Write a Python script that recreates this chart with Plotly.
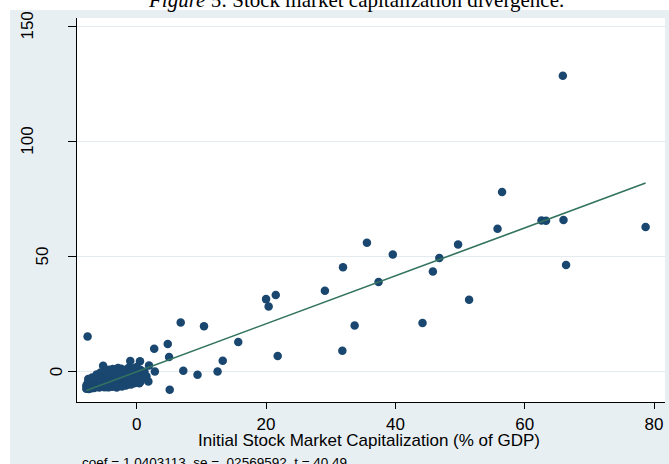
import plotly.graph_objects as go

# initial stock market cap (% of GDP) vs divergence
cap_x = [
    -7.8, -7.8, -7.6, -7.6, -7.4, -7.4, -7.2, -7.0, -7.0, -6.8, -6.8, -6.6,
    -6.4, -6.4, -6.2, -6.0, -6.0, -5.8, -5.8, -5.6, -5.4, -5.4, -5.2, -5.0,
    -5.0, -4.8, -4.6, -4.6, -4.4, -4.4, -4.2, -4.0, -4.0, -3.8, -3.8, -3.6,
    -3.4, -3.4, -3.2, -3.2, -3.0, -3.0, -2.8, -2.6, -2.6, -2.4, -2.4, -2.2,
    -2.2, -2.0, -1.8, -1.8, -1.6, -1.6, -1.4, -1.4, -1.2, -1.2, -1.0, -0.8,
    -0.8, -0.6, -0.4, -0.4, -0.2, 0.0, 0.0, 0.3, 0.6, 0.6, 0.9, 1.2,
    -7.5, -6.9, -6.2, -5.6, -4.9, -4.3, -3.7, -3.1, -2.9, -2.3, -1.7, -0.9,
    -5.2, -1.0, 0.5, 1.9, 1.5, 1.8, 0.4, 2.8, 2.7, 4.8, 5.0, 5.1,
    7.2, 6.8, 9.4, 10.4, 12.5, 13.3, 15.7, -7.6,
    20.0, 20.4, 21.5, 21.8, 29.1, 31.8, 31.9, 33.7, 35.6, 37.4, 39.6,
    44.2, 45.8, 46.8, 49.7, 51.4, 55.8, 56.5, 62.6, 63.3, 66.0, 66.4,
    65.9, 78.7,
]
divergence = [
    -7.4, -6.0, -7.0, -5.0, -7.5, -4.3, -6.4, -7.2, -5.3, -6.0, -4.0, -7.1,
    -5.4, -3.4, -6.6, -4.6, -2.8, -6.9, -5.6, -3.8, -6.2, -2.0, -4.9, -6.7,
    -3.0, -1.6, -5.6, -4.0, -6.8, -0.9, -2.7, -5.0, -0.2, -6.5, -3.6, -1.4,
    -5.8, 0.4, -4.2, -2.4, -6.3, 0.9, -3.1, -5.2, -0.8, -1.9, 1.3, -6.0,
    -3.9, 0.3, -4.8, -2.2, -5.8, 1.0, -3.2, -0.6, -5.3, 1.8, -1.8, -4.4,
    0.6, -2.6, -5.0, 1.5, -0.8, -3.5, 2.0, -1.6, -4.2, 0.7, -2.7, 0.0,
    -3.2, -2.5, -1.2, -0.4, 0.2, 0.8, 1.2, -6.9, 1.6, -6.4, -6.0, -5.6,
    2.6, 4.6, 4.5, 2.7, -2.0, -4.2, -5.0, 0.1, 10.0, 12.0, 6.4, -7.8,
    0.4, 21.4, -1.3, 19.7, 0.1, 4.8, 12.9, 15.3,
    31.5, 28.3, 33.3, 6.8, 35.1, 9.1, 45.3, 20.0, 56.0, 38.9, 50.9,
    21.1, 43.5, 49.3, 55.2, 31.2, 62.0, 78.0, 65.6, 65.5, 65.8, 46.3,
    128.4, 62.8,
]

coef = 1.0403113
intercept = 0.0
y_ticks = [0, 50, 100, 150]
x_ticks = [0, 20, 40, 60, 80]

title_text = "<i>Figure</i> 5: Stock market capitalization divergence."
x_title = "Initial Stock Market Capitalization (% of GDP)"
note_text = "coef = 1.0403113, se = .02569592, t = 40.49"

navy = "#1a476f"
fit_green = "#33735f"
region_gray = "#e8eff2"
grid_gray = "#e3ebee"

fig = go.Figure()

fig.add_trace(go.Scatter(
    x=cap_x, y=divergence,
    mode="markers",
    marker=dict(color=navy, size=8.5, line=dict(width=0)),
    showlegend=False))

# fitted line over the range of the data
x_lo, x_hi = min(cap_x), max(cap_x)
fig.add_trace(go.Scatter(
    x=[x_lo, x_hi],
    y=[intercept + coef * x_lo, intercept + coef * x_hi],
    mode="lines",
    line=dict(color=fit_green, width=1.6),
    showlegend=False))

fig.update_layout(
    width=669, height=464,
    margin=dict(l=77, r=4, t=18, b=62),
    paper_bgcolor=region_gray,
    plot_bgcolor="white",
    font=dict(family="Liberation Sans, Arial", color="black", size=17),
)

fig.update_xaxes(
    range=[-9.24, 81.7],
    tickvals=x_ticks,
    ticks="outside", ticklen=6, tickcolor="black",
    ticklabelstandoff=1,
    showline=True, linecolor="black", linewidth=1,
    showgrid=False, zeroline=False,
    tickfont=dict(size=17),
)
fig.update_yaxes(
    range=[-13.15, 153.5],
    tickvals=y_ticks,
    showticklabels=False,
    ticks="outside", ticklen=8, tickcolor="black",
    showline=True, linecolor="black", linewidth=1,
    showgrid=True, gridcolor=grid_gray, gridwidth=1,
    zeroline=False,
)

# rotated y labels, nudged by label length the way the original draws them
for v in y_ticks:
    lab = str(v)
    fig.add_annotation(
        x=0, xref="paper", y=v, yref="y",
        text=lab, textangle=-90, showarrow=False,
        xanchor="center", yanchor="middle",
        xshift=-6 - 14.5 * len(lab),
        font=dict(size=17, color="black"))

# white margin strips around the gray graph region
fig.add_shape(type="rect", xref="paper", yref="paper",
              x0=-0.2, x1=-0.1139, y0=-0.3, y1=1.2,
              fillcolor="white", line=dict(width=0), layer="above")
fig.add_shape(type="rect", xref="paper", yref="paper",
              x0=-0.2, x1=1.2, y0=1.0208, y1=1.2,
              fillcolor="white", line=dict(width=0), layer="above")

fig.add_annotation(
    x=0.4753, xref="paper", y=1.011, yref="paper",
    text=title_text, showarrow=False,
    xanchor="center", yanchor="bottom",
    font=dict(family="Liberation Serif, Times New Roman", size=21, color="black"))

fig.add_annotation(
    x=0.4974, xref="paper", y=-0.1, yref="paper",
    text=x_title, showarrow=False,
    xanchor="center", yanchor="middle",
    font=dict(size=17, color="black"))

fig.add_annotation(
    x=0.005, xref="paper", y=-0.1328, yref="paper",
    text=note_text, showarrow=False,
    xanchor="left", yanchor="top",
    font=dict(size=13.5, color="black"))

fig.write_html("out.html", config={"displayModeBar": False},
               post_script="document.body.style.margin='0';")
